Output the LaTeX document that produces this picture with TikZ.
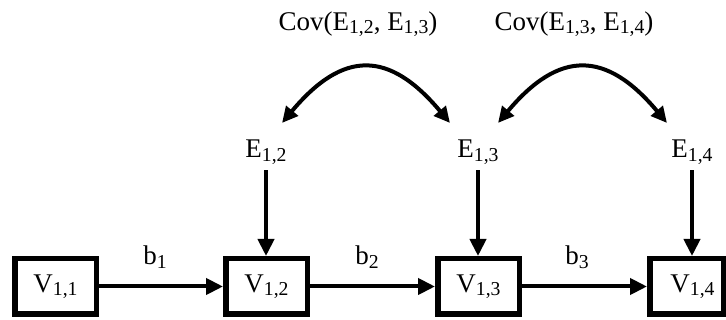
\documentclass[tikz,border=0pt]{standalone}
\usepackage{fontspec}
\setmainfont{Liberation Serif}
\usetikzlibrary{arrows.meta}
\newcommand\sbs[1]{\raisebox{-3.5pt}{\fontsize{19.7}{21}\selectfont #1}}
\begin{document}
\begin{tikzpicture}[x=1pt,y=-1pt,
  txt/.style={font=\fontsize{27}{32}\selectfont, inner sep=0pt},
  vbox/.style={txt, draw, line width=5.5pt, minimum width=81.5pt, minimum height=55.5pt},
  enode/.style={txt, inner ysep=6pt},
  arr/.style={line width=4pt, -{Triangle[length=17pt,width=16pt]}},
  carr/.style={line width=4pt, {Triangle[length=16pt,width=15pt]}-{Triangle[length=16pt,width=15pt]}}
]
\useasboundingbox (0,0) rectangle (726,320);
% boxes
\node[vbox] (V11) at (55.5,286.5) {V\sbs{1,1}};
\node[vbox] (V12) at (266.5,286.5) {V\sbs{1,2}};
\node[vbox] (V13) at (478.5,286.5) {V\sbs{1,3}};
\node[vbox, minimum width=73.5pt] (V14) at (686.5,286.5) {\hspace*{12pt}V\sbs{1,4}};
% error terms
\node[enode] (E12) at (266,152) {E\sbs{1,2}};
\node[enode] (E13) at (478,152) {E\sbs{1,3}};
\node[enode] (E14) at (692,152) {E\sbs{1,4}};
% covariance labels
\node[txt] (C1) at (358,24) {Cov(E\sbs{1,2}, E\sbs{1,3})};
\node[txt] (C2) at (574,24) {Cov(E\sbs{1,3}, E\sbs{1,4})};
% path labels
\node[txt] (b1) at (155,257) {b\sbs{1}};
\node[txt] (b2) at (367,257) {b\sbs{2}};
\node[txt] (b3) at (577,257) {b\sbs{3}};
% horizontal arrows
\draw[arr] (V11) -- (V12);
\draw[arr] (V12) -- (V13);
\draw[arr] (V13.east) -- (V14.west);
% vertical arrows
\draw[arr] (E12.south) -- (E12.south |- V12.north);
\draw[arr] (E13.south) -- (E13.south |- V13.north);
\draw[arr] (E14.south) -- (E14.south |- V14.north);
% covariance curves
\coordinate (c1a) at (282,123);
\coordinate (c1b) at (450,123);
\coordinate (c2a) at (498,123);
\coordinate (c2b) at (667,123);
\draw[carr] (c1a) .. controls (343,50) and (389,50) .. (c1b);
\draw[carr] (c2a) .. controls (559,50) and (606,50) .. (c2b);
\end{tikzpicture}
\end{document}
